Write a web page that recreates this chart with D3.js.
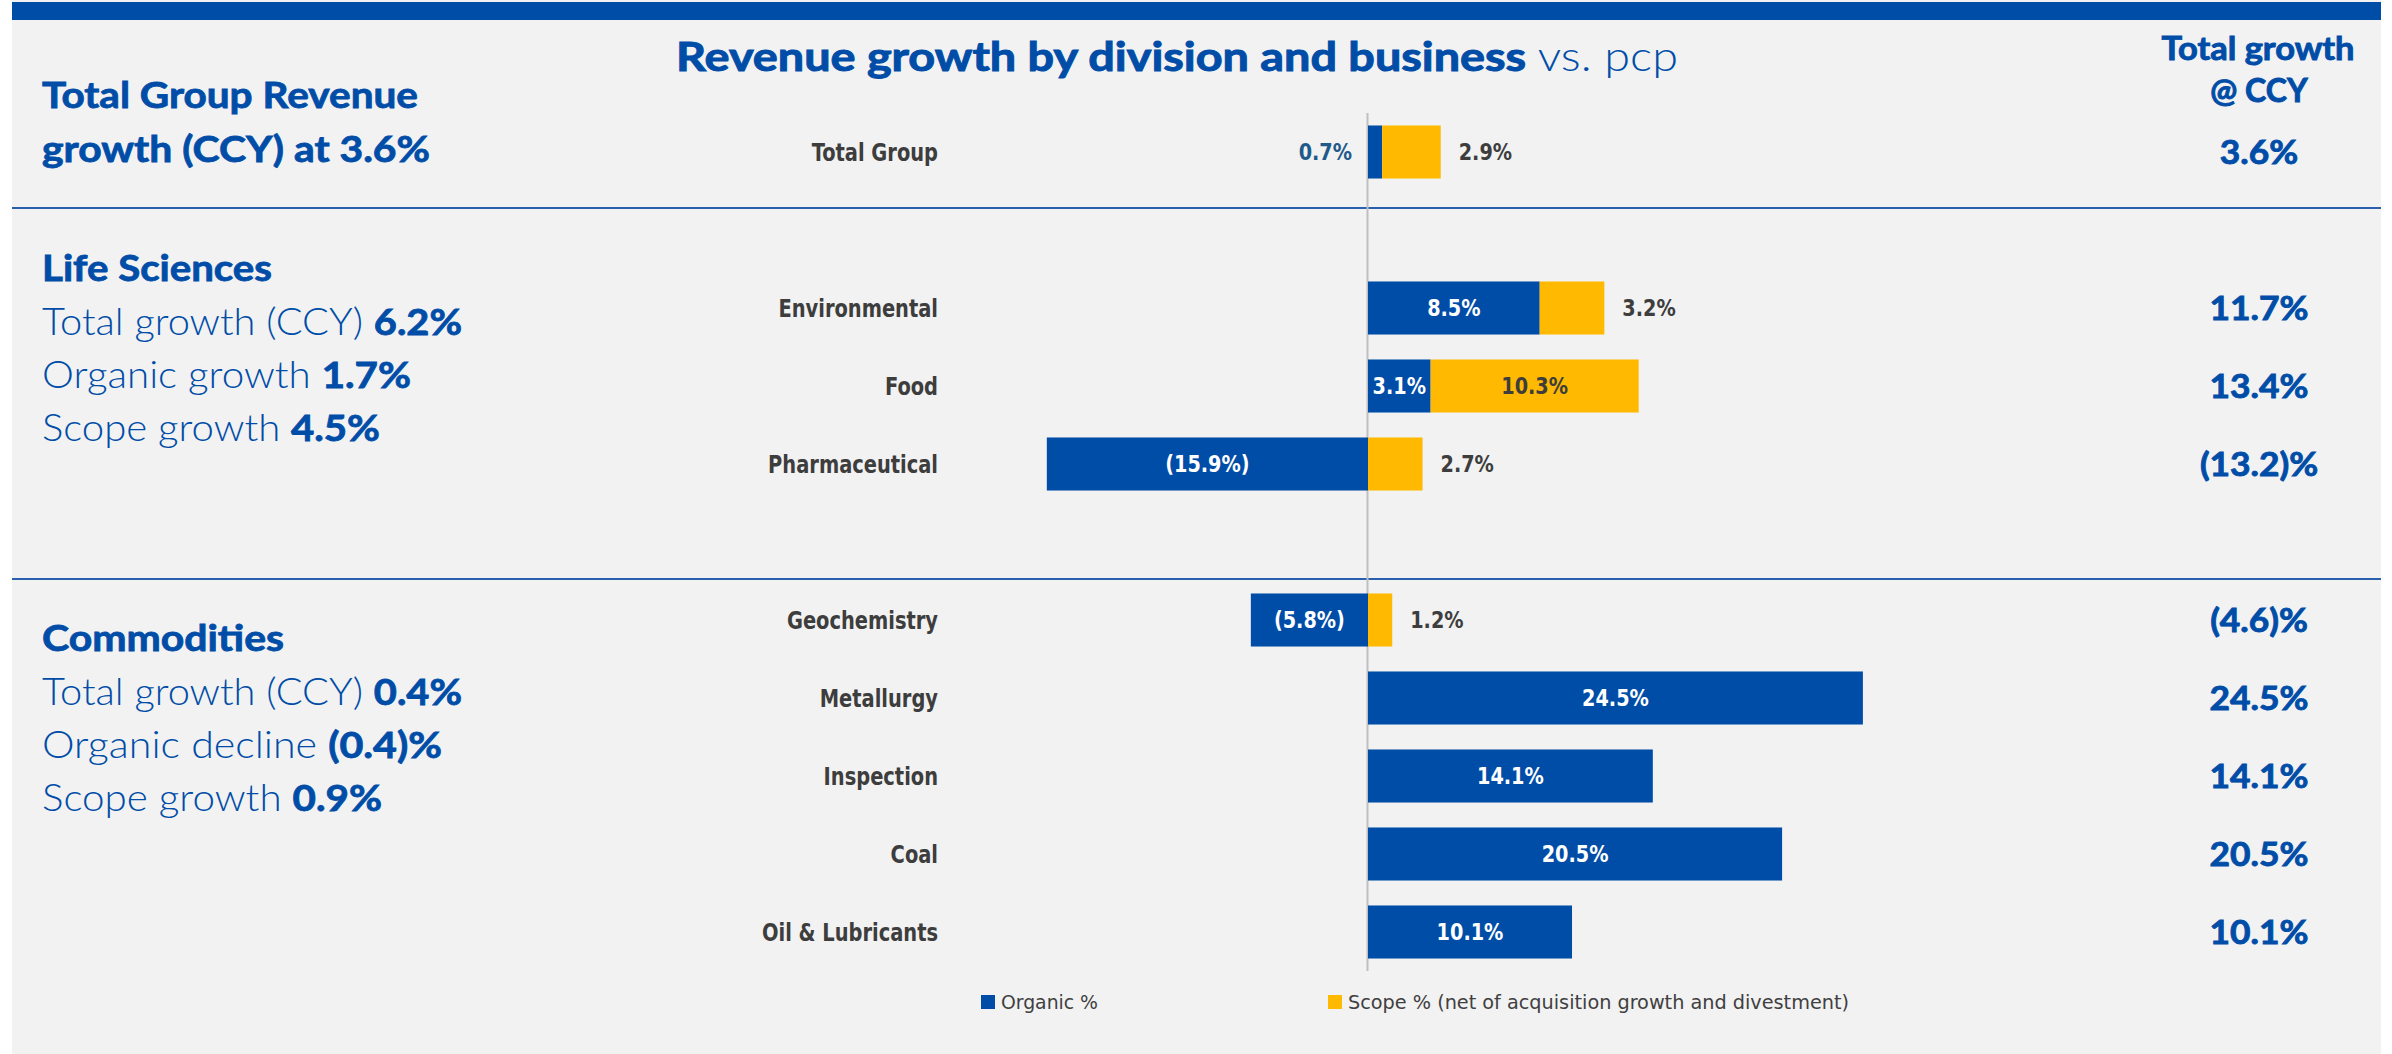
<!DOCTYPE html>
<html><head><meta charset="utf-8">
<script src="https://cdn.jsdelivr.net/npm/d3@7"></script>
<style>body{margin:0;background:#fff;overflow:hidden}</style>
</head><body>
<svg id="c" width="2392" height="1054"></svg>
<script>
// ---------- data ----------
const categories = ["Total Group","Environmental","Food","Pharmaceutical","Geochemistry","Metallurgy","Inspection","Coal","Oil & Lubricants"];
const organic    = [0.7, 8.5, 3.1, -15.9, -5.8, 24.5, 14.1, 20.5, 10.1];
const scope      = [2.9, 3.2, 10.3, 2.7, 1.2, 0, 0, 0, 0];
const rowSlots   = ["Total Group","_gap1","Environmental","Food","Pharmaceutical","_gap2","Geochemistry","Metallurgy","Inspection","Coal","Oil & Lubricants"];
const divisions  = ["Life Sciences","Commodities"];
const divTotal   = [6.2, 0.4];
const divOrganic = [1.7, -0.4];
const divScope   = [4.5, 0.9];
const groupTotal = 3.6;
const legendLabels = ["Organic %","Scope % (net of acquisition growth and divestment)"];

// ---------- styles ----------
const BLUE = "#004da8", YEL = "#ffb900", GRAY = "#3d3d3d";
const NARROW = "'Liberation Sans Narrow','Arial Narrow','DejaVu Sans Condensed',sans-serif";
const HUMAN = "Lato,'Open Sans','Noto Sans',sans-serif";

const svg = d3.select("#c");
function fit(sel, w){ sel.attr("textLength", w).attr("lengthAdjust","spacingAndGlyphs"); return sel; }
function squeeze(sel, k){ sel.each(function(){ const L = this.getComputedTextLength(); if (L > 0) fit(d3.select(this), L*k); }); }
const heavy = sel => sel.attr("stroke", BLUE).attr("stroke-width", 0.9).attr("paint-order","stroke");
const fmtBar = v => v < 0 ? "(" + Math.abs(v).toFixed(1) + "%)" : v.toFixed(1) + "%";
const fmtTot = v => v < 0 ? "(" + Math.abs(v).toFixed(1) + ")%" : v.toFixed(1) + "%";

// background panel + top band
svg.append("rect").attr("x",12).attr("y",0).attr("width",2369).attr("height",1054).attr("fill","#f2f2f2");
svg.append("rect").attr("x",12).attr("y",2).attr("width",2369).attr("height",18).attr("fill",BLUE);

// dividers
[208, 579].forEach(yy => {
  svg.append("line").attr("x1",12).attr("x2",2381).attr("y1",yy).attr("y2",yy)
    .attr("stroke","#2a5fae").attr("stroke-width",2);
});

// ---------- scales ----------
const x = d3.scaleLinear().domain([-20, 30]).range([1368 - 20*20.2, 1368 + 30*20.2]);
const y = d3.scaleBand().domain(rowSlots).range([113, 971]).paddingInner(0.32).paddingOuter(0.16);
const bw = y.bandwidth();

// zero axis line
svg.append("line").attr("x1",x(0)-0.5).attr("x2",x(0)-0.5).attr("y1",113).attr("y2",971)
  .attr("stroke","#bfbfbf").attr("stroke-width",2);

// category axis
const yAxis = svg.append("g").attr("transform","translate(938,0)")
  .call(d3.axisLeft(y).tickSize(0).tickPadding(0).tickFormat(d => d.startsWith("_") ? "" : d));
yAxis.select(".domain").remove();
yAxis.selectAll("text").attr("font-family",NARROW).attr("font-weight","bold")
  .attr("font-size",24).attr("fill",GRAY).attr("dy","0.37em");
squeeze(yAxis.selectAll("text"), 0.9);

const rows = categories.map((c,i) => ({c, o: organic[i], s: scope[i]}));

// organic bars
svg.append("g").selectAll("rect").data(rows).join("rect")
  .attr("x", d => x(Math.min(0,d.o)))
  .attr("width", d => Math.abs(x(d.o)-x(0)))
  .attr("y", d => y(d.c)).attr("height", bw).attr("fill", BLUE);
// scope bars (stacked after organic if positive, else from zero)
const sStart = d => d.o > 0 ? d.o : 0;
svg.append("g").selectAll("rect").data(rows.filter(d => d.s > 0)).join("rect")
  .attr("x", d => x(sStart(d)))
  .attr("width", d => x(sStart(d)+d.s) - x(sStart(d)))
  .attr("y", d => y(d.c)).attr("height", bw).attr("fill", YEL);

// organic labels
const oLab = svg.append("g").selectAll("text").data(rows).join("text")
  .attr("font-family",NARROW).attr("font-weight","bold").attr("font-size",23)
  .attr("y", d => y(d.c) + bw/2 + 8)
  .each(function(d){
    const t = d3.select(this).text(fmtBar(d.o));
    if (Math.abs(d.o) < 2) {
      t.attr("x", x(0) - 16).attr("text-anchor","end").attr("fill","#1f5a8a");
    } else {
      t.attr("x", (x(0)+x(d.o))/2).attr("text-anchor","middle").attr("fill","#fff");
    }
  });
squeeze(oLab, 0.93);
// scope labels
const sLab = svg.append("g").selectAll("text").data(rows.filter(d => d.s > 0)).join("text")
  .attr("font-family",NARROW).attr("font-weight","bold").attr("font-size",23).attr("fill",GRAY)
  .attr("y", d => y(d.c) + bw/2 + 8)
  .each(function(d){
    const t = d3.select(this).text(fmtBar(d.s));
    const a = x(sStart(d)), b = x(sStart(d)+d.s);
    if (b - a > 120) t.attr("x",(a+b)/2).attr("text-anchor","middle");
    else t.attr("x", b + 18).attr("text-anchor","start");
  });
squeeze(sLab, 0.93);

// right column totals
const tot = svg.append("g").selectAll("text").data(rows).join("text")
  .attr("x", 2259).attr("y", d => y(d.c) + bw/2 + 12)
  .attr("text-anchor","middle").attr("font-family",HUMAN).attr("font-weight","bold")
  .attr("font-size",33).attr("fill",BLUE)
  .text(d => fmtTot(+(d.o + d.s).toFixed(1)));
heavy(tot);
squeeze(tot, 1.07);

// right header
heavy(fit(svg.append("text").attr("x",2258).attr("y",60).attr("text-anchor","middle")
  .attr("font-family",HUMAN).attr("font-weight","bold").attr("font-size",32).attr("fill",BLUE)
  .text("Total growth"), 193));
heavy(svg.append("text").attr("x",2259).attr("y",102).attr("text-anchor","middle")
  .attr("font-family",HUMAN).attr("font-weight","bold").attr("font-size",32).attr("fill",BLUE)
  .text("@ CCY"));

// title
const title = svg.append("text").attr("x",676).attr("y",71).attr("fill",BLUE)
  .attr("font-family",HUMAN).attr("font-size",41);
title.append("tspan").attr("font-weight","bold").attr("stroke",BLUE).attr("stroke-width",1)
  .text("Revenue growth by division and business");
title.append("tspan").attr("font-weight",300).text(" vs. pcp");
fit(title, 1002);

// left panel
function leftLine(yy, parts, w, size){
  const t = svg.append("text").attr("x",42).attr("y",yy).attr("fill",BLUE)
    .attr("font-family",HUMAN).attr("font-size",size||37);
  parts.forEach(p => {
    const s = t.append("tspan").attr("font-weight",p[1]).text(p[0]);
    if (p[1] === "bold") s.attr("stroke",BLUE).attr("stroke-width",0.8);
  });
  fit(t, w);
}
leftLine(108, [["Total Group Revenue","bold"]], 376, 36);
leftLine(162, [["growth (CCY) at " + groupTotal.toFixed(1) + "%","bold"]], 388, 36);

const secY = [281, 651];
const secW = [[230,420,369,338],[242,420,400,340]];
divisions.forEach((dname,i) => {
  const y0 = secY[i];
  leftLine(y0, [[dname,"bold"]], secW[i][0], 36);
  leftLine(y0+54, [["Total growth (CCY) ",300],[fmtTot(divTotal[i]),"bold"]], secW[i][1]);
  leftLine(y0+107, [[divOrganic[i] < 0 ? "Organic decline " : "Organic growth ",300],[fmtTot(divOrganic[i]),"bold"]], secW[i][2]);
  leftLine(y0+160, [["Scope growth ",300],[fmtTot(divScope[i]),"bold"]], secW[i][3]);
});

// legend
const lg = svg.append("g");
const lgX = [981, 1328], lgW = [97, 501], lgC = [BLUE, YEL];
legendLabels.forEach((l,i) => {
  lg.append("rect").attr("x",lgX[i]).attr("y",995).attr("width",14).attr("height",14).attr("fill",lgC[i]);
  fit(lg.append("text").attr("x",lgX[i]+20).attr("y",1009).attr("font-family",NARROW)
    .attr("font-size",20).attr("fill","#404040").text(l), lgW[i]);
});
</script>
</body></html>
